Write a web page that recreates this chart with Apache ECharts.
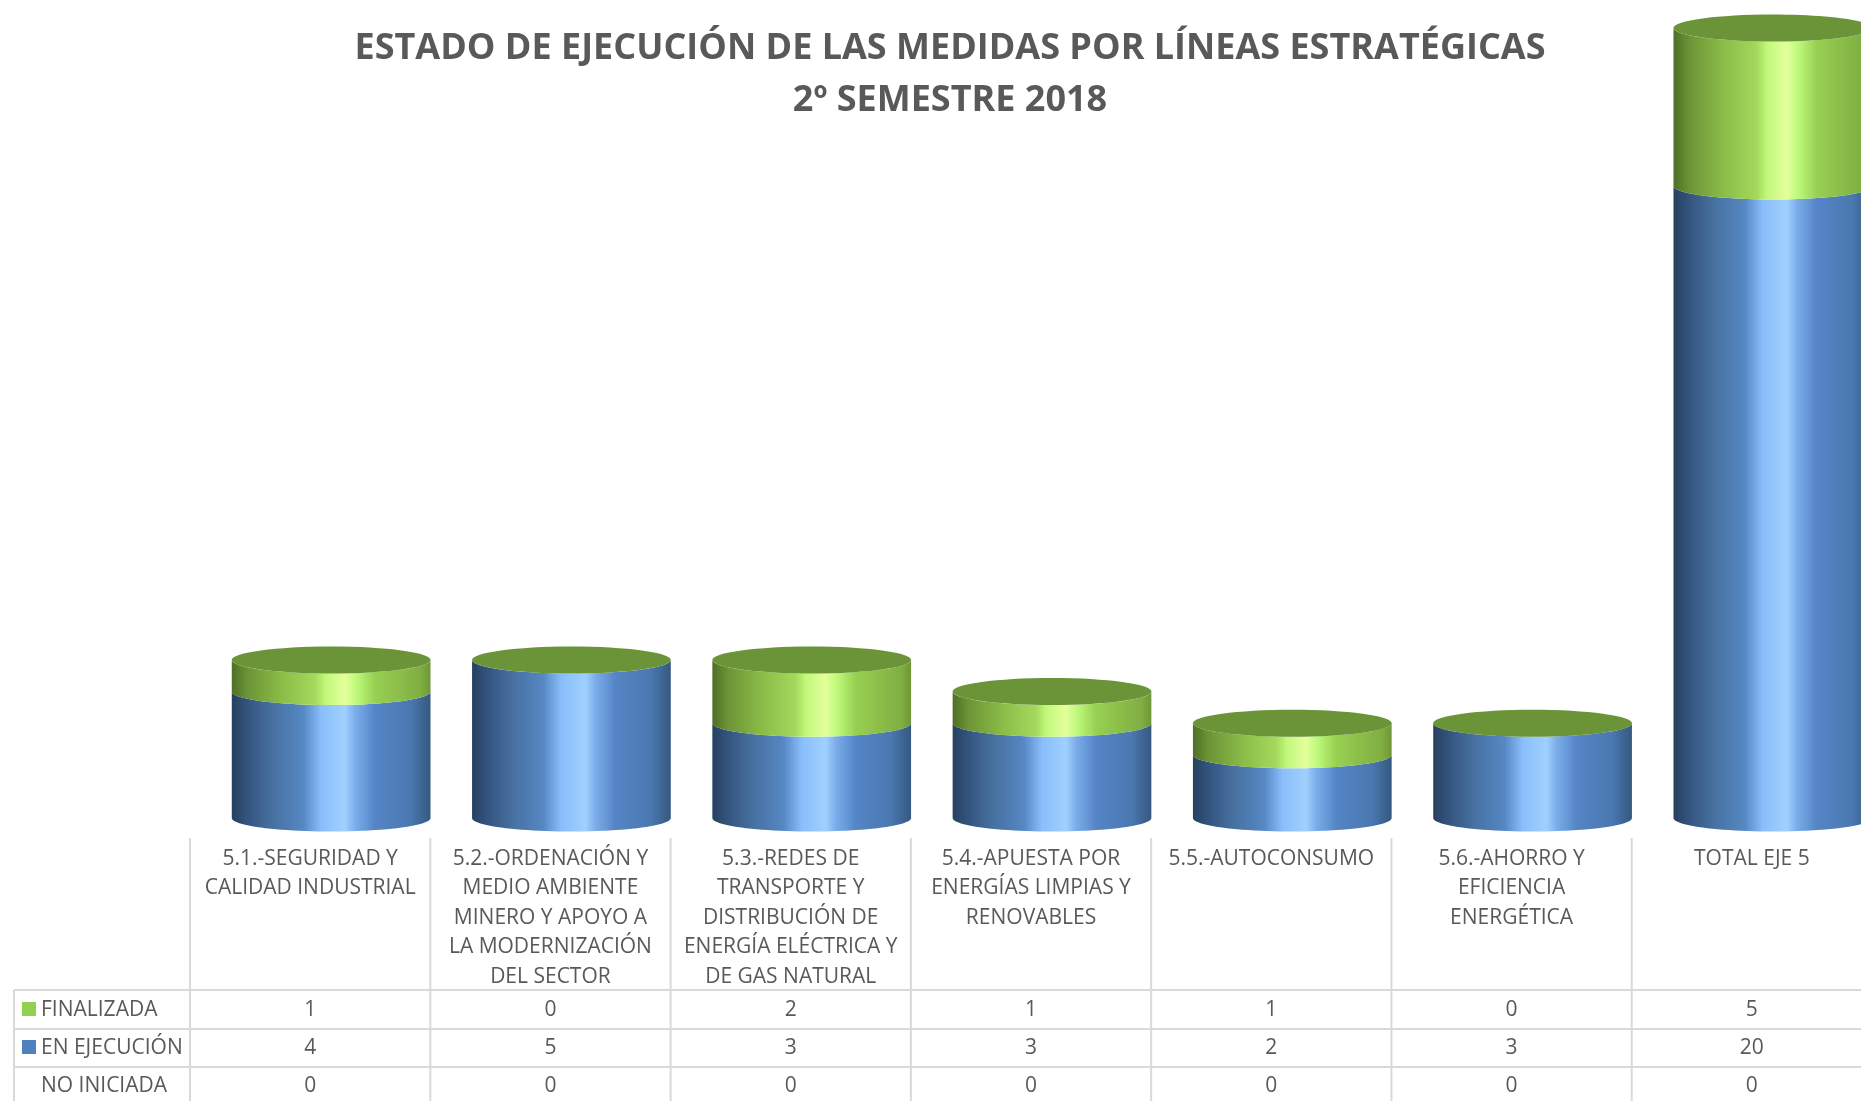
<!DOCTYPE html>
<html>
<head>
<meta charset="utf-8">
<title>Estado de ejecución</title>
<script src="https://cdn.jsdelivr.net/npm/echarts@6/dist/echarts.min.js"></script>
<style>
  html, body { margin: 0; padding: 0; background: #fff; overflow: hidden; }
  #chart { width: 1861px; height: 1101px; }
</style>
</head>
<body>
<div id="chart"></div>
<script>
const titleText = 'ESTADO DE EJECUCIÓN DE LAS MEDIDAS POR LÍNEAS ESTRATÉGICAS\n2º SEMESTRE 2018'
const categories = [
  '5.1.-SEGURIDAD Y\nCALIDAD INDUSTRIAL',
  '5.2.-ORDENACIÓN Y\nMEDIO AMBIENTE\nMINERO Y APOYO A\nLA MODERNIZACIÓN\nDEL SECTOR',
  '5.3.-REDES DE\nTRANSPORTE Y\nDISTRIBUCIÓN DE\nENERGÍA ELÉCTRICA Y\nDE GAS NATURAL',
  '5.4.-APUESTA POR\nENERGÍAS LIMPIAS Y\nRENOVABLES',
  '5.5.-AUTOCONSUMO',
  '5.6.-AHORRO Y\nEFICIENCIA\nENERGÉTICA',
  'TOTAL EJE 5',
]
const finalizada = [1, 0, 2, 1, 1, 0, 5]
const enEjecucion = [4, 5, 3, 3, 2, 3, 20]
const noIniciada = [0, 0, 0, 0, 0, 0, 0]
const rowNames = ['FINALIZADA', 'EN EJECUCIÓN', 'NO INICIADA']
const rowValues = [finalizada, enEjecucion, noIniciada]
const rowKeys = ['#92d050', '#4f81bd', null]

const FONT = '"Open Sans", sans-serif'
const TEXT = '#595959'
const LINE = '#d9d9d9'
const CAP = '#6b9338'
const RY = 13.5
const SHIFT = 21 // las columnas van algo desplazadas respecto a la tabla

const gradient = (stops) => new echarts.graphic.LinearGradient(0, 0, 1, 0,
  stops.map((s) => ({ offset: s[0], color: s[1] })))
const blueFill = gradient([
  [0, '#27405f'], [0.08, '#34547f'], [0.2, '#46709f'], [0.36, '#5688c4'],
  [0.45, '#8abefa'], [0.57, '#a0d0ff'], [0.62, '#7caeeb'], [0.72, '#5585c6'],
  [0.9, '#4a78b0'], [1, '#35587f'],
])
const greenFill = gradient([
  [0, '#4f6e27'], [0.08, '#6c9436'], [0.25, '#8abc48'], [0.42, '#a4d95c'],
  [0.47, '#c0f87a'], [0.57, '#e4ff9c'], [0.63, '#bcf87a'], [0.72, '#98d052'],
  [0.95, '#80ae42'], [1, '#6e9638'],
])

// media elipse frontal, de izquierda a derecha
function frontArc(cx, cy, rx) {
  const pts = []
  for (let k = 0; k <= 48; k++) {
    const a = Math.PI - (Math.PI * k) / 48
    pts.push([cx + rx * Math.cos(a), cy + RY * Math.sin(a)])
  }
  return pts
}

function renderCylinder(params, api) {
  const idx = api.value(0)
  const base = api.coord([idx, api.value(1)])
  const top = api.coord([idx, api.value(2)])
  const rx = (api.size([1, 0])[0] * 0.827) / 2
  const cx = base[0] + SHIFT
  const isTop = params.seriesName === rowNames[0]
  const children = []
  if (base[1] - top[1] > 0.5) {
    const lower = frontArc(cx, base[1], rx)
    const upper = frontArc(cx, top[1], rx).reverse()
    children.push({
      type: 'polygon',
      shape: { points: lower.concat(upper) },
      style: { fill: isTop ? greenFill : blueFill },
    })
  }
  if (isTop) {
    children.push({
      type: 'ellipse',
      shape: { cx: cx, cy: top[1], rx: rx, ry: RY },
      style: { fill: CAP },
    })
  }
  return { type: 'group', children: children }
}

const TABLE_LEFT = 14
const TABLE_TOP = 838
const ROW_LINES = [990, 1029, 1067]
const ROW_CENTERS = [1010, 1048, 1086]
const PAGE_BOTTOM = 1101

function vline(x, y1, y2) {
  return { type: 'line', shape: { x1: x, y1: y1, x2: x, y2: y2 }, style: { stroke: LINE, lineWidth: 2 } }
}
function cellText(x, y, text, align) {
  return {
    type: 'text',
    style: { x: x, y: y, text: String(text), fill: TEXT, font: '21px ' + FONT, align: align || 'center', verticalAlign: 'middle' },
  }
}

// celdas de la tabla de datos, una columna por categoría
function renderTableColumn(params, api) {
  const idx = api.value(0)
  const cx = api.coord([idx, 0])[0]
  const w = api.size([1, 0])[0]
  const children = [vline(cx - w / 2, TABLE_TOP, PAGE_BOTTOM)]
  ROW_LINES.forEach((y) => {
    children.push({ type: 'line', shape: { x1: cx - w / 2, y1: y, x2: cx + w / 2, y2: y }, style: { stroke: LINE, lineWidth: 2 } })
  })
  rowValues.forEach((vals, r) => children.push(cellText(cx, ROW_CENTERS[r], vals[idx])))
  return { type: 'group', children: children }
}

const rowHeaders = [vline(TABLE_LEFT, ROW_LINES[0], PAGE_BOTTOM)]
ROW_LINES.forEach((y) => {
  rowHeaders.push({ type: 'line', shape: { x1: TABLE_LEFT, y1: y, x2: 190, y2: y }, style: { stroke: LINE, lineWidth: 2 } })
})
rowNames.forEach((name, r) => {
  rowHeaders.push(cellText(41, ROW_CENTERS[r], name, 'left'))
  if (rowKeys[r]) {
    rowHeaders.push({
      type: 'rect',
      shape: { x: 22, y: ROW_CENTERS[r] - 8, width: 14, height: 14 },
      style: { fill: rowKeys[r] },
    })
  }
})

const chart = echarts.init(document.getElementById('chart'), null, { renderer: 'canvas' })
chart.setOption({
  animation: false,
  backgroundColor: '#fff',
  title: {
    text: titleText,
    left: 945,
    top: 18,
    textAlign: 'center',
    textStyle: { color: TEXT, fontFamily: FONT, fontWeight: 'bold', fontSize: 36, lineHeight: 52 },
  },
  grid: { left: 190, width: 1682, top: 28, height: 790, outerBoundsMode: 'none' },
  xAxis: {
    type: 'category',
    data: categories,
    axisLine: { show: false },
    axisTick: { show: false },
    axisLabel: {
      interval: 0,
      margin: 26,
      color: TEXT,
      fontFamily: FONT,
      fontSize: 21,
      lineHeight: 29.5,
      verticalAlign: 'top',
      hideOverlap: false,
    },
  },
  yAxis: { type: 'value', min: 0, max: 25, show: false, splitLine: { show: false } },
  graphic: rowHeaders.map((el) => Object.assign({ silent: true }, el)),
  series: [
    {
      name: 'tabla',
      type: 'custom',
      silent: true,
      renderItem: renderTableColumn,
      data: categories.map((c, i) => [i]),
    },
    {
      name: rowNames[1],
      type: 'custom',
      renderItem: renderCylinder,
      data: enEjecucion.map((v, i) => [i, 0, v]),
    },
    {
      name: rowNames[0],
      type: 'custom',
      renderItem: renderCylinder,
      data: finalizada.map((v, i) => [i, enEjecucion[i], enEjecucion[i] + v]),
    },
  ],
})
</script>
</body>
</html>
